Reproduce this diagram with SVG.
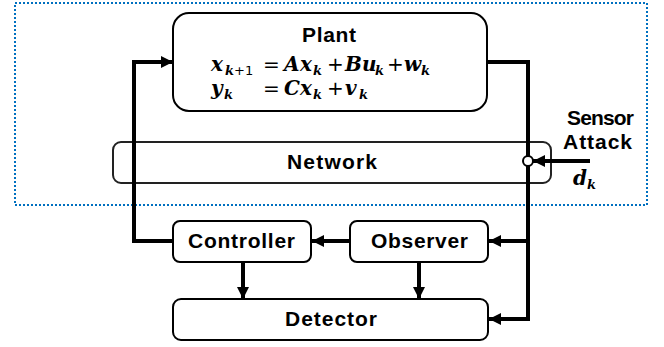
<svg xmlns="http://www.w3.org/2000/svg" width="664" height="347" viewBox="0 0 664 347">
  <style>
    .frame { fill: none; stroke: #0070C0; stroke-width: 2; stroke-dasharray: 2 2; }
    .box { fill: #fff; stroke: #000; stroke-width: 2; }
    .net { fill: #fff; stroke: #222; stroke-width: 2; }
    .wire { fill: none; stroke: #000; stroke-width: 4; }
    .lbl { font-family: "Liberation Sans", Arial, sans-serif; font-weight: bold; font-size: 21px; fill: #000; }
    .math { font-family: "DejaVu Serif", "Liberation Serif", serif; font-weight: bold; font-style: italic; font-size: 20px; fill: #000; }
    .op { font-style: normal; font-weight: normal; font-family: "DejaVu Sans", sans-serif; }
    .sub { font-size: 13px; }
  </style>
  <defs>
    <marker id="arr" markerUnits="userSpaceOnUse" markerWidth="12" markerHeight="12" refX="12" refY="6" orient="auto">
      <path d="M0,0 L12,6 L0,12 z" fill="#000"/>
    </marker>
  </defs>

  <rect class="frame" x="15" y="3" width="632" height="202"/>

  <g id="network">
    <rect class="net" x="113" y="142" width="438" height="41" rx="8"/>
    <text class="lbl" x="287" y="169" font-size="22" textLength="90">Network</text>
  </g>

  <g id="connectors">
    <path class="wire" d="M173,241 H134 V62 H173" marker-end="url(#arr)"/>
    <path class="wire" d="M487,62 H528 V319 H489" marker-end="url(#arr)"/>
    <path class="wire" d="M528,241 H489" marker-end="url(#arr)"/>
    <path class="wire" d="M350,241 H312" marker-end="url(#arr)"/>
    <path class="wire" d="M243,262 V299" marker-end="url(#arr)"/>
    <path class="wire" d="M419,262 V299" marker-end="url(#arr)"/>
    <path class="wire" d="M590,161 H533" marker-end="url(#arr)"/>
  </g>

  <g id="plant">
    <rect class="box" x="173" y="13" width="314" height="98" rx="16"/>
    <text class="lbl" x="302" y="42" textLength="54">Plant</text>
    <text class="math" y="71">
      <tspan x="211">x</tspan><tspan class="sub" x="225" dy="4">k</tspan><tspan class="sub op" font-weight="bold">+1</tspan>
      <tspan class="op" x="263" dy="-4">=</tspan>
      <tspan x="284">A</tspan><tspan x="300">x</tspan><tspan class="sub" x="313" dy="4">k</tspan>
      <tspan class="op" x="327" dy="-4">+</tspan>
      <tspan x="345">B</tspan><tspan x="362">u</tspan><tspan class="sub" x="375" dy="4">k</tspan>
      <tspan class="op" x="387" dy="-4">+</tspan>
      <tspan x="404">w</tspan><tspan class="sub" x="421" dy="4">k</tspan>
    </text>
    <text class="math" y="95">
      <tspan x="211">y</tspan><tspan class="sub" x="224" dy="4">k</tspan>
      <tspan class="op" x="263" dy="-4">=</tspan>
      <tspan x="284">C</tspan><tspan x="300">x</tspan><tspan class="sub" x="313" dy="4">k</tspan>
      <tspan class="op" x="327" dy="-4">+</tspan>
      <tspan x="345">v</tspan><tspan class="sub" x="359" dy="4">k</tspan>
    </text>
  </g>

  <g id="controller">
    <rect class="box" x="173" y="221" width="138" height="41" rx="7"/>
    <text class="lbl" x="188" y="248" textLength="107">Controller</text>
  </g>

  <g id="observer">
    <rect class="box" x="350" y="221" width="138" height="41" rx="7"/>
    <text class="lbl" x="371" y="248" textLength="97">Observer</text>
  </g>

  <g id="detector">
    <rect class="box" x="173" y="299" width="315" height="41" rx="8"/>
    <text class="lbl" x="285" y="326" textLength="92">Detector</text>
  </g>

  <g id="sensor-attack">
    <circle cx="528" cy="161" r="5" fill="#fff" stroke="#000" stroke-width="2"/>
    <text class="lbl" x="567" y="125" textLength="67">Sensor</text>
    <text class="lbl" x="563" y="149" textLength="69">Attack</text>
    <text class="math" y="185"><tspan x="573">d</tspan><tspan class="sub" x="587" dy="4">k</tspan></text>
  </g>
</svg>
